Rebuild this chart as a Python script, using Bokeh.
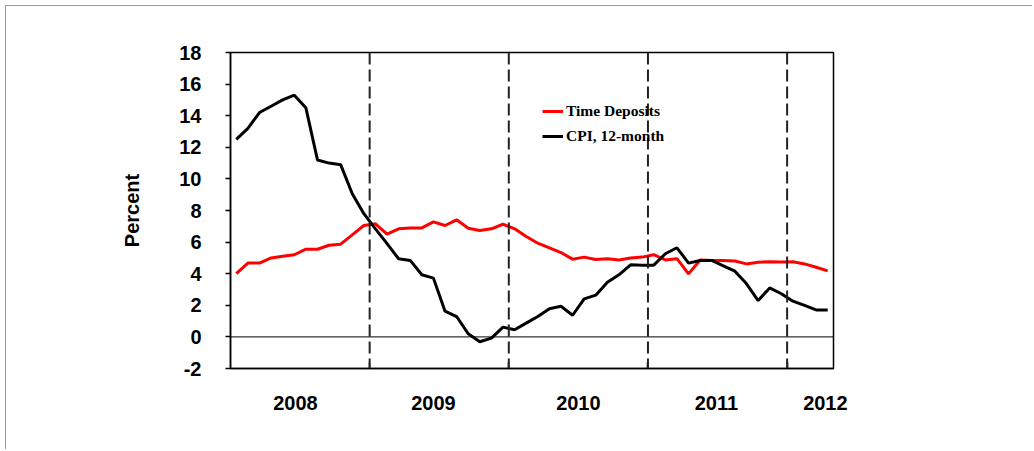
from bokeh.plotting import figure
from bokeh.models import Span, Legend, LegendItem, FixedTicker, Range1d, ColumnDataSource
from bokeh.embed import file_html
from bokeh.resources import INLINE

# Monthly data, Jan 2008 - Apr 2012
time_deposits = [4.0, 4.67, 4.67, 5.0, 5.1, 5.2, 5.55, 5.55, 5.8, 5.87, 6.46, 7.05,
                 7.16, 6.5, 6.84, 6.9, 6.9, 7.28, 7.05, 7.41, 6.88, 6.73, 6.84, 7.13,
                 6.84, 6.35, 5.93, 5.64, 5.34, 4.92, 5.05, 4.9, 4.95, 4.87, 5.0, 5.05,
                 5.2, 4.87, 4.95, 3.99, 4.87, 4.84, 4.84, 4.8, 4.62, 4.72, 4.76, 4.74,
                 4.76, 4.62, 4.41, 4.18]
cpi_12m = [12.5, 13.2, 14.2, 14.6, 15.0, 15.3, 14.5, 11.2, 11.0, 10.9, 9.06, 7.8,
           6.84, 5.9, 4.94, 4.84, 3.93, 3.72, 1.63, 1.29, 0.2, -0.31, -0.08, 0.62,
           0.45, 0.87, 1.29, 1.78, 1.94, 1.37, 2.41, 2.64, 3.46, 3.93, 4.56, 4.54,
           4.54, 5.26, 5.64, 4.67, 4.84, 4.84, 4.5, 4.16, 3.36, 2.3, 3.1, 2.73,
           2.26, 1.99, 1.71, 1.71]
years = ["2008", "2009", "2010", "2011", "2012"]
y_ticks = list(range(-2, 19, 2))
year_boundaries = [12, 24, 36, 48]

month_x = [i + 0.5 for i in range(len(cpi_12m))]
src = ColumnDataSource(dict(x=month_x, td=time_deposits, cpi=cpi_12m))

W, H = 1027, 444
FL, FT, FW, FH = 224, 46, 603, 316
p = figure(width=W, height=H, output_backend="svg", toolbar_location=None,
           x_range=Range1d(0, len(cpi_12m)), y_range=Range1d(-2, 18),
           min_border_left=FL, min_border_top=FT,
           min_border_right=W - FL - FW, min_border_bottom=H - FT - FH)
p.styles = {"border-top": "1px solid #999999", "border-left": "1px solid #999999",
            "margin-left": "5px", "margin-top": "5px"}
p.background_fill_color = "white"
p.border_fill_color = "white"
p.outline_line_color = "black"
p.outline_line_width = 1.5
p.xgrid.visible = False
p.ygrid.visible = False

# y axis
ya = p.yaxis[0]
ya.ticker = FixedTicker(ticks=y_ticks)
ya.major_label_overrides = {t: str(t) for t in y_ticks}
ya.minor_tick_line_color = None
ya.major_tick_in = 0
ya.major_tick_out = 5
ya.major_tick_line_width = 1.5
ya.axis_line_width = 1.5
ya.axis_line_color = "black"
ya.major_label_standoff = 24
ya.major_label_text_font = "Liberation Sans"
ya.major_label_text_font_style = "bold"
ya.major_label_text_font_size = "20px"
ya.major_label_text_color = "black"
ya.axis_label = "Percent"
ya.axis_label_text_font = "Liberation Sans"
ya.axis_label_text_font_style = "bold"
ya.axis_label_text_font_size = "20px"
ya.axis_label_text_color = "black"
ya.axis_label_standoff = 33

# x axis: year labels as major ticks (no marks), year boundaries as minor tick marks
year_x = [5.6, 17.5, 30.0, 41.9, 51.3]
xa = p.xaxis[0]
xa.ticker = FixedTicker(ticks=year_x, minor_ticks=year_boundaries)
xa.major_label_overrides = {xx: t for xx, t in zip(year_x, years)}
xa.major_tick_line_color = None
xa.major_tick_in = 0
xa.major_tick_out = 0
xa.minor_tick_in = 6
xa.minor_tick_out = 0
xa.minor_tick_line_width = 1.5
xa.minor_tick_line_color = "black"
xa.axis_line_width = 1.5
xa.axis_line_color = "black"
xa.major_label_standoff = 27
xa.major_label_text_font = "Liberation Sans"
xa.major_label_text_font_style = "bold"
xa.major_label_text_font_size = "20px"
xa.major_label_text_color = "black"

for b in year_boundaries:
    p.add_layout(Span(location=b, dimension="height", line_color="#222222",
                      line_width=2, line_dash="12 5"))
p.add_layout(Span(location=0, dimension="width", line_color="black", line_width=1))

r_td = p.line("x", "td", source=src, line_color="#ff0000", line_width=3)
r_cpi = p.line("x", "cpi", source=src, line_color="black", line_width=3)

legend = Legend(items=[LegendItem(label="Time Deposits", renderers=[r_td]),
                       LegendItem(label="CPI, 12-month", renderers=[r_cpi])],
                location=(312, 222), padding=0, margin=0, spacing=5,
                glyph_width=21, glyph_height=20, label_height=20, label_standoff=3,
                background_fill_alpha=0, border_line_color=None,
                label_text_font="Liberation Serif", label_text_font_style="bold",
                label_text_font_size="15.5px", label_text_color="black")
p.add_layout(legend)

open("out.html", "w").write(file_html(p, INLINE))
